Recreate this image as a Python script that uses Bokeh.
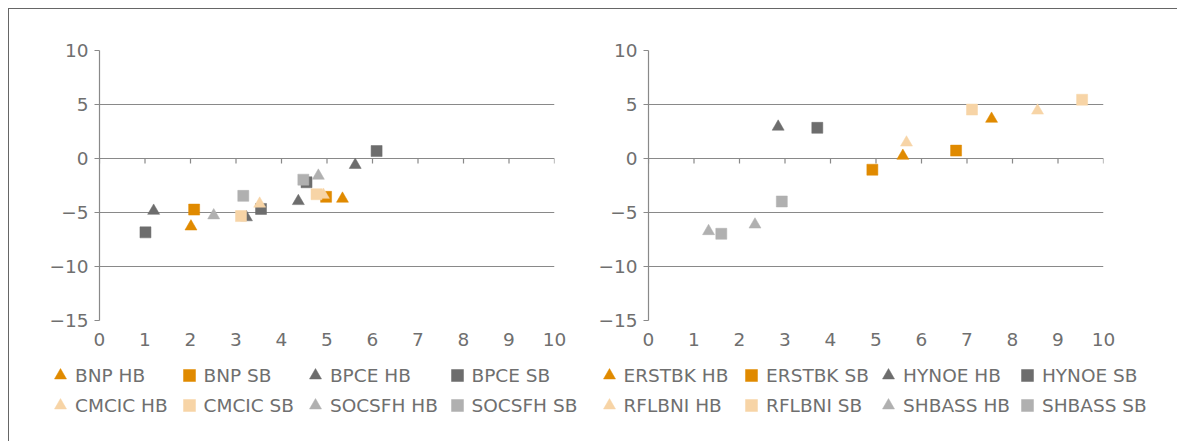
from bokeh.plotting import figure
from bokeh.models import Legend, LegendItem, FixedTicker, Range1d, Row, Column
from bokeh.embed import file_html
from bokeh.resources import INLINE

# ---------------- data ----------------
x_ticks = [0, 1, 2, 3, 4, 5, 6, 7, 8, 9, 10]
y_ticks = [-15, -10, -5, 0, 5, 10]

left_labels = ["BNP HB", "BNP SB", "BPCE HB", "BPCE SB",
               "CMCIC HB", "CMCIC SB", "SOCSFH HB", "SOCSFH SB"]
bnp_hb_x = [2.01, 5.34]
bnp_hb_y = [-6.30, -3.73]
bnp_sb_x = [2.08, 4.98]
bnp_sb_y = [-4.73, -3.55]
bpce_hb_x = [1.19, 3.23, 4.37, 5.62]
bpce_hb_y = [-4.85, -5.45, -3.95, -0.60]
bpce_sb_x = [1.01, 3.55, 4.55, 6.09]
bpce_sb_y = [-6.84, -4.67, -2.20, 0.69]
cmcic_hb_x = [3.52, 4.92]
cmcic_hb_y = [-4.19, -3.37]
cmcic_sb_x = [3.11, 4.77]
cmcic_sb_y = [-5.33, -3.31]
socsfh_hb_x = [2.51, 4.81]
socsfh_hb_y = [-5.27, -1.60]
socsfh_sb_x = [3.16, 4.48]
socsfh_sb_y = [-3.46, -1.96]

right_labels = ["ERSTBK HB", "ERSTBK SB", "HYNOE HB", "HYNOE SB",
                "RFLBNI HB", "RFLBNI SB", "SHBASS HB", "SHBASS SB"]
erstbk_hb_x = [5.59, 7.54]
erstbk_hb_y = [0.24, 3.67]
erstbk_sb_x = [4.92, 6.76]
erstbk_sb_y = [-1.04, 0.73]
hynoe_hb_x = [2.85]
hynoe_hb_y = [2.94]
hynoe_sb_x = [3.71]
hynoe_sb_y = [2.84]
rflbni_hb_x = [5.67, 8.55]
rflbni_hb_y = [1.47, 4.43]
rflbni_sb_x = [7.11, 9.53]
rflbni_sb_y = [4.53, 5.44]
shbass_hb_x = [1.32, 2.34]
shbass_hb_y = [-6.73, -6.12]
shbass_sb_x = [1.60, 2.93]
shbass_sb_y = [-6.97, -3.98]

left_xs = [bnp_hb_x, bnp_sb_x, bpce_hb_x, bpce_sb_x,
           cmcic_hb_x, cmcic_sb_x, socsfh_hb_x, socsfh_sb_x]
left_ys = [bnp_hb_y, bnp_sb_y, bpce_hb_y, bpce_sb_y,
           cmcic_hb_y, cmcic_sb_y, socsfh_hb_y, socsfh_sb_y]
right_xs = [erstbk_hb_x, erstbk_sb_x, hynoe_hb_x, hynoe_sb_x,
            rflbni_hb_x, rflbni_sb_x, shbass_hb_x, shbass_sb_x]
right_ys = [erstbk_hb_y, erstbk_sb_y, hynoe_hb_y, hynoe_sb_y,
            rflbni_hb_y, rflbni_sb_y, shbass_hb_y, shbass_sb_y]

# ---------------- style ----------------
ORANGE = "#E08A00"
DARK = "#6D6D6D"
PEACH = "#F7D4A6"
LIGHT = "#B0B0B0"
colors = [ORANGE, ORANGE, DARK, DARK, PEACH, PEACH, LIGHT, LIGHT]
markers = ["triangle", "square"] * 4
sizes = {"triangle": 12, "square": 11}
TEXT = "#6F6F6F"
GRID = "#898989"
FONT = "DejaVu Sans"
TICK_FS = "18.5px"
LEG_FS = "18.5px"
TICK_LEN = 0.46  # length of the tick marks under the y = 0 axis, in y units


def make_panel(xs, ys, width, left, right):
    p = figure(width=width, height=348, output_backend="svg", toolbar_location=None,
               x_range=Range1d(0, 10), y_range=Range1d(-15, 10),
               min_border_left=left, min_border_right=right,
               min_border_top=41, min_border_bottom=37)
    p.outline_line_color = None
    p.background_fill_color = "white"
    p.border_fill_color = "white"
    p.xgrid.visible = False
    p.ygrid.ticker = FixedTicker(ticks=y_ticks)
    p.ygrid.grid_line_color = GRID
    p.ygrid.grid_line_width = 1.2

    ya = p.yaxis[0]
    ya.ticker = FixedTicker(ticks=y_ticks)
    ya.axis_line_color = GRID
    ya.axis_line_width = 1.2
    ya.major_tick_line_color = GRID
    ya.major_tick_line_width = 1.2
    ya.major_tick_out = 5
    ya.major_tick_in = 0
    ya.minor_tick_line_color = None
    ya.major_label_text_font = FONT
    ya.major_label_text_font_size = TICK_FS
    ya.major_label_text_color = TEXT
    ya.major_label_standoff = 6

    xa = p.xaxis[0]
    xa.ticker = FixedTicker(ticks=x_ticks)
    xa.axis_line_color = None
    xa.major_tick_line_color = None
    xa.major_tick_out = 0
    xa.major_tick_in = 0
    xa.minor_tick_line_color = None
    xa.major_label_text_font = FONT
    xa.major_label_text_font_size = TICK_FS
    xa.major_label_text_color = TEXT
    xa.major_label_standoff = 12

    # tick marks hanging from the horizontal axis at y = 0
    p.segment(x0=x_ticks, y0=[0] * len(x_ticks), x1=x_ticks,
              y1=[-TICK_LEN] * len(x_ticks), line_color=GRID, line_width=1.2)

    for x, y, c, m in zip(xs, ys, colors, markers):
        p.scatter(x=x, y=y, marker=m, size=sizes[m], fill_color=c,
                  line_color=c, line_width=0.5)
    return p


p1 = make_panel(left_xs, left_ys, width=565, left=90, right=20)
p2 = make_panel(right_xs, right_ys, width=603, left=74, right=74)

# ---------------- legends (own strip under both charts) ----------------
# the strip's ranges lie outside the data, so only the legend glyphs show
lf = figure(width=1168, height=84, output_backend="svg", toolbar_location=None,
            x_range=Range1d(-3, -2), y_range=Range1d(-3, -2),
            min_border=0, min_border_left=0, min_border_right=0,
            min_border_top=0, min_border_bottom=0)
lf.axis.visible = False
lf.grid.visible = False
lf.outline_line_color = None
lf.background_fill_color = "white"
lf.border_fill_color = "white"


def add_legends(labels, xs, ys, col_x):
    items = []
    for lab, x, y, c, m in zip(labels, xs, ys, colors, markers):
        r = lf.scatter(x=x, y=y, marker=m, size=sizes[m], fill_color=c,
                       line_color=c, line_width=0.5)
        items.append(LegendItem(label=lab, renderers=[r]))
    for col in range(4):
        leg = Legend(items=[items[col], items[col + 4]],
                     location=(col_x[col], 21), orientation="vertical",
                     glyph_width=30, glyph_height=30, label_height=30,
                     spacing=0, padding=0, margin=0, label_standoff=0,
                     border_line_color=None, background_fill_alpha=0,
                     label_text_font=FONT, label_text_font_size=LEG_FS,
                     label_text_color=TEXT)
        lf.add_layout(leg)


add_legends(left_labels, left_xs, left_ys, [36, 164.5, 290.9, 432.5])
add_legends(right_labels, right_xs, right_ys, [584.5, 727.1, 864.1, 1002.9])

layout = Column(children=[Row(children=[p1, p2]), lf], margin=(8, 0, 0, 8),
                styles={"border-top": "1px solid #666666",
                        "border-left": "1px solid #666666"})

open("out.html", "w").write(file_html(layout, INLINE))
